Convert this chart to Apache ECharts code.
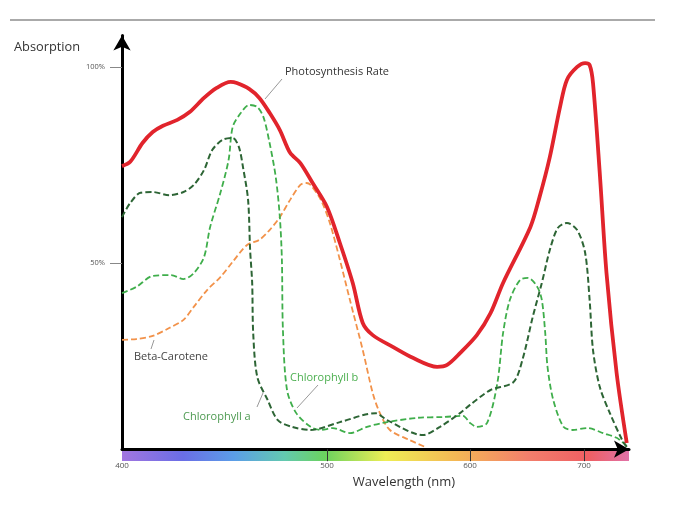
<!DOCTYPE html>
<html>
<head>
<meta charset="utf-8">
<script src="https://cdn.jsdelivr.net/npm/echarts@6/dist/echarts.min.js"></script>
<style>html,body{margin:0;padding:0;background:#fff}#c{width:700px;height:524px}</style>
</head>
<body>
<div id="c"></div>
<script>
// Axis tick labels (nm) and their positions along the (non-linear) drawn wavelength axis
const tickNm = [400, 500, 600, 700, 740];
const tickPos = [0, 205, 348, 462, 507];
const yTickValues = [50, 100];

// Photosynthesis Rate
const rateNm = [400,404,410,415,420,427,433,440,446,453,456,462,467,472,477,482,487,493,500,509,518,525,532,546,560,577,584,593,606,618,629,653,661,670,679,685,694,701,705,708,714,720,729,738];
const rateVal = [74.7,75.8,80.6,83.4,85.0,86.5,88.5,92.1,94.6,96.2,95.9,94.4,92.1,88.3,83.9,78.1,75.5,70.4,64.3,55.1,44.9,34.7,31.6,28.6,25.8,23.5,24.0,27.0,31.6,37.2,44.9,59.2,66.8,77.0,89.8,96.7,100,101,100.5,95.9,73.0,47.4,21.9,4.1];

// Chlorophyll b
const chlBNm = [400,407,415,424,430,435,440,443,448,452,454,458,462,466,469,472,475,477,478,478.5,480.5,485,492,497,504,516,528,539,563,581,595,600,606,615,624,629,635,644,651,659,663,666,668,673,682,690,703,717,729,738];
const chlBVal = [42.3,43.9,46.7,46.9,45.9,47.4,51.5,59.2,67.9,76.3,84.7,88.3,90.3,89.8,87.2,80.6,71.9,61.7,50.8,32.9,17.6,11.7,8.2,7.4,7.9,6.6,8.2,9.2,10.5,10.7,11.0,9.2,8.2,9.2,19.4,32.1,40.6,45.7,46.2,43.9,40.6,32.1,23.5,15.1,8.2,7.4,7.9,6.6,5.4,3.3];

// Chlorophyll a
const chlANm = [400,404,409,415,423,430,435,440,444,449,454,457,459,461.5,462.5,463.5,464,466,471,476,483,492,509,534,542,567,579,593,600,618,638,646,655,663,670,677,685,694,701,705,708,714,723,734,738];
const chlAVal = [61.7,65.3,67.9,68.1,67.3,68.1,69.9,73.7,78.8,81.4,81.9,79.6,74.5,66.1,53.3,44.9,32.1,20.9,15.1,9.9,8.2,7.4,9.4,11.7,9.9,6.1,8.2,11.7,13.8,17.6,19.6,25.3,36.2,44.9,53.3,58.9,60.2,58.4,52.6,40.6,27.8,18.4,11.7,4.8,3.1];

// Beta-Carotene
const betaNm = [400,407,415,423,430,435,441.5,448,454,461,467,472,477,482,487,490,492,497,502,509,516,525,532,537,544,558,568.5];
const betaVal = [30.4,30.6,31.4,33.4,35.5,38.8,43.1,46.4,50.3,54.6,55.9,58.4,61.7,66.1,69.9,70.4,69.9,66.1,60.2,50.8,40.6,27.8,16.8,11.7,7.4,4.8,3.1];

function warp(nm) {
  for (let i = 0; i < tickNm.length - 1; i++) {
    if (nm <= tickNm[i + 1] || i === tickNm.length - 2) {
      const t = (nm - tickNm[i]) / (tickNm[i + 1] - tickNm[i]);
      return tickPos[i] + t * (tickPos[i + 1] - tickPos[i]);
    }
  }
}
function pairs(xs, ys) { return xs.map((x, i) => [warp(x), ys[i]]); }

const chart = echarts.init(document.getElementById('c'), null, {renderer: 'canvas'});
const FONT = 'Open Sans';
function dashedSeries(name, xs, ys, color, width, dash) {
  return {
    name, type: 'line', data: pairs(xs, ys), showSymbol: false, smooth: 0.3,
    lineStyle: {color, width, type: dash}, z: 3, silent: true
  };
}

chart.setOption({
  animation: false,
  backgroundColor: '#fff',
  grid: {left: 122, right: 71, top: 35.6, bottom: 74.8, containLabel: false},
  xAxis: {
    type: 'value', min: 0, max: tickPos[tickPos.length - 1],
    splitLine: {show: false},
    axisLine: {show: true, onZero: false, lineStyle: {color: '#000', width: 3},
      symbol: ['none', 'arrow'], symbolSize: [13, 15]},
    axisTick: {show: true, customValues: tickPos.slice(1, 4), length: 12, lineStyle: {color: '#333', width: 1}},
    axisLabel: {customValues: tickPos.slice(0, 4), margin: 13, fontSize: 8, color: '#555', fontFamily: FONT,
      formatter: v => { const i = tickPos.indexOf(v); return i >= 0 ? String(tickNm[i]) : ''; }}
  },
  yAxis: {
    type: 'value', min: 2.5, max: 108,
    splitLine: {show: false},
    axisLine: {show: true, onZero: false, lineStyle: {color: '#000', width: 3},
      symbol: ['none', 'arrow'], symbolSize: [13, 15]},
    axisTick: {show: true, customValues: yTickValues, length: 12, lineStyle: {color: '#888', width: 1}},
    axisLabel: {customValues: yTickValues, margin: 17, fontSize: 7.5, color: '#555', fontFamily: FONT,
      formatter: v => v + '%'}
  },
  series: [
    dashedSeries('Beta-Carotene', betaNm, betaVal, '#f2924a', 1.8, [6, 3]),
    dashedSeries('Chlorophyll b', chlBNm, chlBVal, '#3fae4b', 1.8, [6, 3]),
    dashedSeries('Chlorophyll a', chlANm, chlAVal, '#2d6535', 2, [6, 3]),
    {name: 'Photosynthesis Rate', type: 'line', data: pairs(rateNm, rateVal), showSymbol: false, smooth: 0.3,
      lineStyle: {color: '#e1242c', width: 3.8}, z: 4, silent: true}
  ],
  graphic: [
    {type: 'line', shape: {x1: 10, y1: 20, x2: 655, y2: 20}, style: {stroke: '#aaa', lineWidth: 2}},
    {type: 'rect', z: -1, shape: {x: 122, y: 450, width: 507, height: 11},
      style: {fill: new echarts.graphic.LinearGradient(0, 0, 1, 0, [
        {offset: 0, color: '#a276e0'},
        {offset: 0.12, color: '#6a6ee6'},
        {offset: 0.22, color: '#5b9de8'},
        {offset: 0.32, color: '#63c9b0'},
        {offset: 0.40, color: '#6bd25e'},
        {offset: 0.52, color: '#eeee55'},
        {offset: 0.66, color: '#f4b755'},
        {offset: 0.80, color: '#f27f6c'},
        {offset: 0.92, color: '#ef5f63'},
        {offset: 1, color: '#e173a8'}
      ])}},
    {type: 'text', x: 14, y: 47, style: {text: 'Absorption', font: '12.8px "Open Sans"', fill: '#333', textVerticalAlign: 'middle'}},
    {type: 'text', x: 404, y: 482, style: {text: 'Wavelength (nm)', font: '13px "Open Sans"', fill: '#333', textAlign: 'center', textVerticalAlign: 'middle'}},
    {type: 'text', x: 285, y: 72, style: {text: 'Photosynthesis Rate', font: '11px "Open Sans"', fill: '#333', textVerticalAlign: 'middle'}},
    {type: 'line', shape: {x1: 282, y1: 79, x2: 265, y2: 99}, style: {stroke: '#999', lineWidth: 1}},
    {type: 'text', x: 134, y: 357, style: {text: 'Beta-Carotene', font: '11px "Open Sans"', fill: '#444', textVerticalAlign: 'middle'}},
    {type: 'line', shape: {x1: 154, y1: 340, x2: 151, y2: 349}, style: {stroke: '#999', lineWidth: 1}},
    {type: 'text', x: 183, y: 417, style: {text: 'Chlorophyll a', font: '11px "Open Sans"', fill: '#4d9a51', textVerticalAlign: 'middle'}},
    {type: 'line', shape: {x1: 257, y1: 407, x2: 263, y2: 393}, style: {stroke: '#999', lineWidth: 1}},
    {type: 'text', x: 290, y: 378, style: {text: 'Chlorophyll b', font: '11px "Open Sans"', fill: '#4caf50', textVerticalAlign: 'middle'}},
    {type: 'line', shape: {x1: 318, y1: 385, x2: 297, y2: 408}, style: {stroke: '#999', lineWidth: 1}}
  ]
});
</script>
</body>
</html>
